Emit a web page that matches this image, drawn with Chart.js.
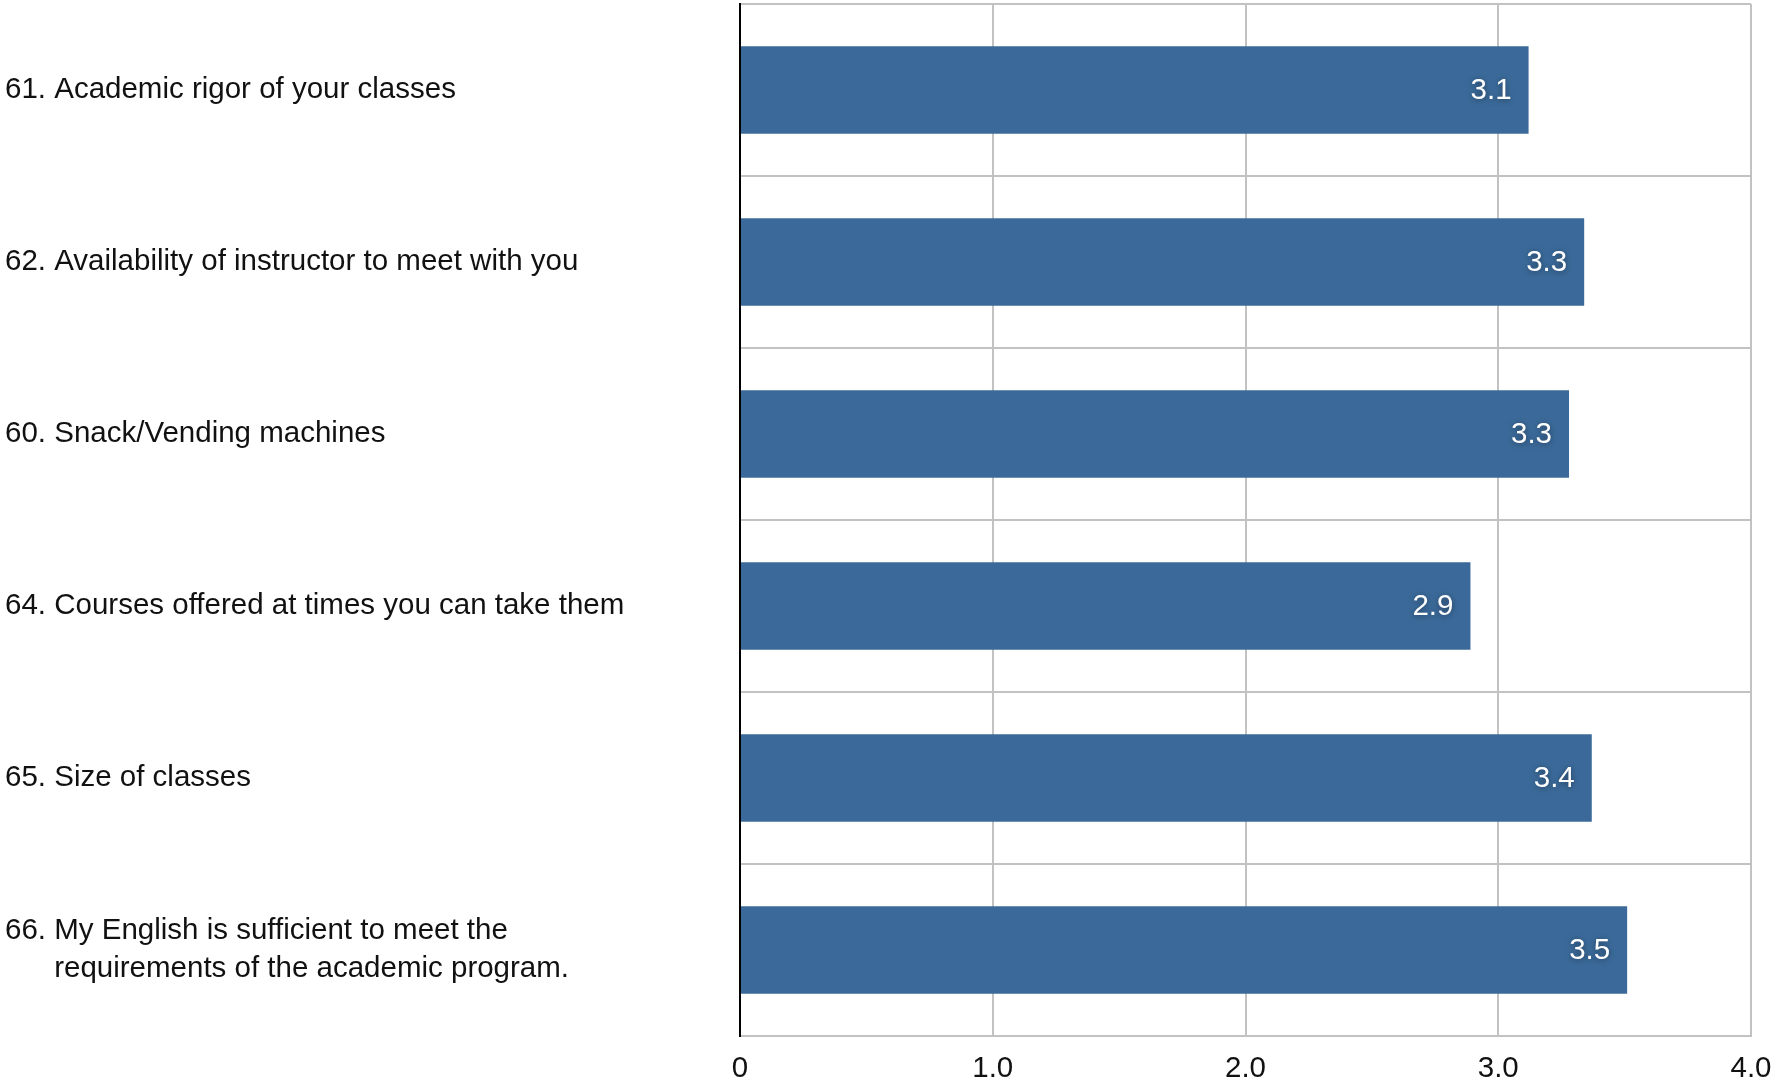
<!DOCTYPE html>
<html>
<head>
<meta charset="utf-8">
<script src="https://cdn.jsdelivr.net/npm/chart.js@4/dist/chart.umd.min.js"></script>
<style>
  html, body { margin: 0; padding: 0; background: #fff; }
  #wrap { width: 1771px; height: 1084px; }
</style>
</head>
<body>
<div id="wrap"><canvas id="chart" width="1771" height="1084"></canvas></div>
<script>
const questions = [
  "61. Academic rigor of your classes",
  "62. Availability of instructor to meet with you",
  "60. Snack/Vending machines",
  "64. Courses offered at times you can take them",
  "65. Size of classes",
  ["66. My English is sufficient to meet the", "      requirements of the academic program."],
];
const scores = [3.12, 3.34, 3.28, 2.89, 3.37, 3.51];
const xTicks = [0, 1, 2, 3, 4];

const FONT = "Helvetica, 'Liberation Sans', Arial, sans-serif";
const SIZE = 29.5;

/* white value labels at the end of each bar */
const valueLabels = {
  id: "valueLabels",
  afterDatasetsDraw(chart) {
    const { ctx } = chart;
    const meta = chart.getDatasetMeta(0);
    ctx.save();
    ctx.font = `${SIZE}px ${FONT}`;
    ctx.fillStyle = "#fff";
    ctx.textAlign = "right";
    ctx.textBaseline = "middle";
    ctx.shadowColor = "rgba(0,0,0,0.45)";
    ctx.shadowBlur = 6;
    ctx.shadowOffsetY = 1;
    meta.data.forEach((bar, i) => {
      ctx.fillText(scores[i].toFixed(1), bar.x - 17, bar.y + 1);
    });
    ctx.restore();
  },
};

new Chart(document.getElementById("chart"), {
  type: "bar",
  data: {
    labels: questions,
    datasets: [{
      data: scores,
      backgroundColor: "#3b6a9a",
      barPercentage: 0.51,
      categoryPercentage: 1,
    }],
  },
  plugins: [valueLabels],
  options: {
    indexAxis: "y",
    responsive: false,
    animation: false,
    layout: { padding: { left: 5, top: 4, right: 20, bottom: 0 } },
    plugins: { legend: { display: false }, tooltip: { enabled: false } },
    scales: {
      x: {
        min: 0,
        max: 4,
        afterBuildTicks: (s) => { s.ticks = xTicks.map((v) => ({ value: v })); },
        grid: { color: "#c2c2c2", lineWidth: 2, drawTicks: false },
        border: { color: "#c2c2c2", width: 2 },
        ticks: {
          color: "#111",
          font: { family: FONT, size: SIZE },
          padding: 15,
          callback: (v) => (v === 0 ? "0" : v.toFixed(1)),
        },
        afterFit: (s) => { s.height = 48; s.paddingLeft = 0; s.paddingRight = 0; },
      },
      y: {
        grid: { color: "#c2c2c2", lineWidth: 2, drawTicks: false, offset: true },
        border: { color: "#000", width: 2 },
        ticks: {
          color: "#111",
          crossAlign: "far",
          font: { family: FONT, size: SIZE, lineHeight: 1.27 },
          padding: 0,
        },
        afterFit: (s) => { s.width = 735; s.paddingTop = 0; s.paddingBottom = 0; },
      },
    },
  },
});
</script>
</body>
</html>
